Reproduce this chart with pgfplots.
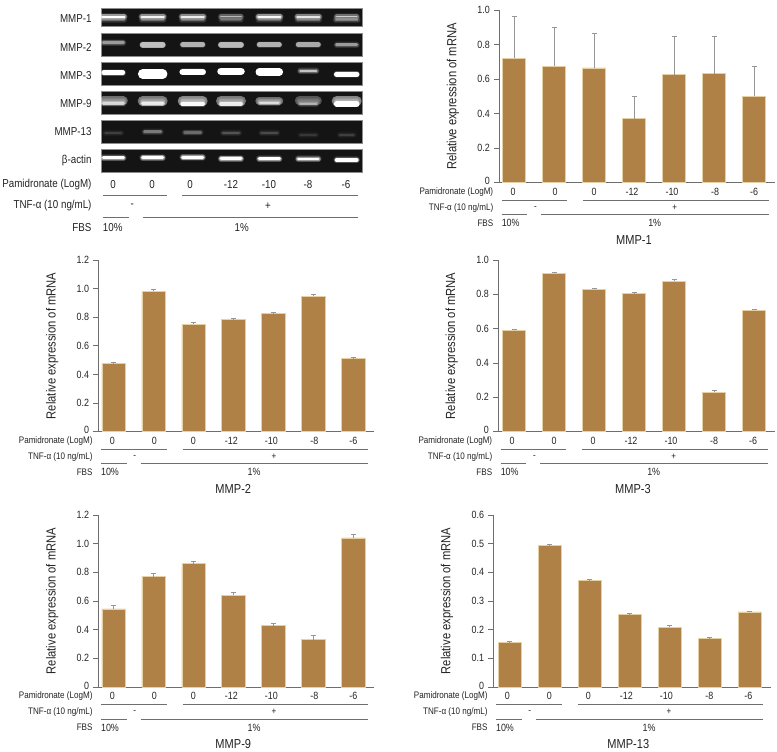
\documentclass[border=0pt]{standalone}
\usepackage{fontspec}
\setmainfont{Liberation Sans}[FakeStretch=0.85]
\usepackage{pgfplots}
\pgfplotsset{compat=1.18}
\definecolor{barfill}{RGB}{175,129,71}
\definecolor{baredge}{RGB}{232,208,165}
\definecolor{txt}{RGB}{35,35,35}
\definecolor{rulec}{RGB}{110,110,110}
\definecolor{errc}{RGB}{150,150,150}

% one gel band: x, y, half width, thickness, brightness
\newcommand\band[5]{%
  \pgfmathsetmacro\ta{#4+3.5}\pgfmathsetmacro\tb{#4+2.2}\pgfmathsetmacro\tc{#4+1}%
  \addplot[draw=white,line cap=round,opacity=0.1*#5/100,line width=\ta pt] coordinates {(#1-#3,#2) (#1+#3,#2)};
  \addplot[draw=white,line cap=round,opacity=0.2*#5/100,line width=\tb pt] coordinates {(#1-#3,#2) (#1+#3,#2)};
  \addplot[draw=white,line cap=round,opacity=0.4*#5/100,line width=\tc pt] coordinates {(#1-#3,#2) (#1+#3,#2)};
  \addplot[draw=white,line cap=round,opacity=#5/100,line width=#4pt] coordinates {(#1-#3,#2) (#1+#3,#2)};
}
\newcommand\lane[2]{\addplot[fill=black!92,draw=black!45,line width=0.6pt] coordinates {(101,#1) (362,#1) (362,#2) (101,#2)} --cycle;}
\newcommand\zero{\raisebox{3pt}{0}}

\pgfplotsset{
  panel/.style={
    scale only axis, anchor=south west,
    axis lines=left, axis line style={-,draw=rulec,line width=0.8pt},
    tick style={draw=rulec,line width=0.7pt}, tick align=outside, major tick length=5pt,
    xtick=\empty, ymin=0, clip=false,
    ybar, bar width=23.4pt, bar shift=0pt,
    yticklabel style={font=\fontsize{10.5}{12}\selectfont,text=txt,inner xsep=2pt,xshift=-2pt},
    every axis y label/.style={at={(axis description cs:-0.167,0.5)},rotate=90,anchor=center,font=\fontsize{13.2}{15}\selectfont,text=txt},
    ylabel={Relative expression of mRNA},
    /pgf/number format/assume math mode=true,
  },
  vals/.style={fill=barfill,draw=baredge,line width=0.7pt,
    error bars/.cd,y dir=plus,y explicit,
    error bar style={draw=errc,line width=0.8pt},
    error mark options={draw=errc,rotate=90,mark size=2.5pt,line width=0.7pt}},
}
% the rows under a chart, from the foot of its y axis
\newcommand\annot[3]{%
  \begin{scope}[shift={(#1,#2)},text=txt,font=\fontsize{9.5}{11}\selectfont]
    \node[anchor=east,inner sep=0pt] at (-5.6,9) {Pamidronate (LogM)};
    \node[anchor=east,inner sep=0pt] at (-5.6,25) {TNF-α (10 ng/mL)};
    \node[anchor=east,inner sep=0pt] at (-5.6,40.6) {FBS};
    \foreach \px/\t in {14/0,56/0,95/0,133/-12,173/-10,216/-8,255/-6} \node[font=\fontsize{10.5}{12}\selectfont] at (\px,9) {\t};
    \draw[rulec,line width=0.6pt] (2.7,17.6)--(68.4,17.6) (84.4,17.6)--(269.7,17.6) (2.7,32)--(28.4,32) (42.4,32)--(269.7,32);
    \node at (36.4,25) {-}; \node at (175.7,25) {+};
    \node[font=\fontsize{10.5}{12}\selectfont] at (11.7,40.6) {10\%};
    \node[font=\fontsize{10.5}{12}\selectfont] at (155.7,40.6) {1\%};
    \node[font=\fontsize{13}{15}\selectfont] at (135,57) {#3};
  \end{scope}}

\begin{document}
\begin{tikzpicture}[x=1pt,y=1pt]
\path (0,0) rectangle (777,751);

% gel panel
\begin{axis}[at={(101pt,579pt)},anchor=south west,scale only axis,width=261pt,height=164pt,
  xmin=101,xmax=362,ymin=8,ymax=172,y dir=reverse,hide axis,clip=false]
\lane{8.5}{26.5}\lane{33}{56}\lane{62}{85}\lane{91}{114}\lane{120}{143}\lane{149}{172}
% MMP-1
\band{113.3}{20}{11}{1.5}{25}\band{152.7}{20}{11}{1.5}{25}\band{192.7}{20}{11}{1.5}{25}\band{231}{20}{10}{1.5}{20}\band{269.3}{20}{11}{1.5}{22}\band{308.3}{20}{11}{1.5}{25}\band{346.7}{20}{11}{1.5}{30}
\band{113.3}{16.7}{11}{2.2}{100}\band{152.7}{16.7}{11}{2.2}{90}\band{192.7}{16.7}{11}{2.2}{85}\band{231}{16.7}{10}{1.6}{55}\band{269.3}{16.7}{11}{2.2}{95}\band{308.3}{16.7}{11}{2.2}{80}\band{346.7}{16.7}{10}{1.6}{65}
% MMP-2
\band{113.3}{42.7}{10}{3}{42}\band{152.7}{44.7}{10}{6}{58}\band{192.7}{44.7}{10}{5}{52}\band{231}{44.7}{10}{6}{55}\band{269.3}{44.7}{10}{5}{52}\band{308.3}{44.7}{10}{5}{48}\band{346.7}{45}{10}{3}{42}
% MMP-3
\band{113.3}{72.7}{9.5}{4.5}{100}\band{152.7}{74}{10}{9.5}{100}\band{192.7}{72}{10}{6.5}{100}\band{231}{71.3}{10}{7.5}{100}\band{269.3}{72}{10}{7.5}{100}\band{308.3}{71}{8}{2}{60}\band{346.7}{74.3}{10}{5.5}{100}
% MMP-9
\band{113.3}{101}{10}{9}{38}\band{152.7}{101}{10}{10}{42}\band{192.7}{101}{10}{10}{48}\band{231}{101}{10}{10}{42}\band{269.3}{101}{10}{8}{35}\band{308.3}{101}{9}{9}{28}\band{346.7}{101}{10}{10}{48}
\band{113.3}{103.5}{10}{2.5}{55}\band{152.7}{103.5}{10}{3.5}{70}\band{192.7}{104}{10}{4.5}{90}\band{231}{104}{10}{3.5}{75}\band{269.3}{103}{9}{2.5}{60}\band{308.3}{104}{8}{2.5}{38}\band{346.7}{104}{10}{5.5}{100}
% MMP-13
\band{113.3}{133}{8}{1.5}{12}\band{152.7}{132}{8}{3}{30}\band{192.7}{132.5}{8}{2.5}{25}\band{231}{133}{8}{2}{18}\band{269.3}{133}{8}{2}{15}\band{308.3}{135}{8}{1.5}{10}\band{346.7}{135}{7}{1.5}{12}
% beta-actin
\band{113.3}{158}{10}{3}{100}\band{152.7}{157.7}{10}{3}{100}\band{192.7}{157.3}{10}{3}{100}\band{231}{158.7}{10}{3}{100}\band{269.3}{159}{10}{3}{100}\band{308.3}{159}{10}{2.5}{100}\band{346.7}{160}{10}{3.5}{100}
\end{axis}

% MMP-1
\begin{axis}[panel,at={(499pt,568.3pt)},width=276pt,height=172.7pt,xmin=-0.375,xmax=6.525,ymax=1,
  ytick={0,0.2,0.4,0.6,0.8,1},yticklabels={\zero,0.2,0.4,0.6,0.8,1.0}]
\addplot[vals] coordinates {(0,0.72) +- (0,0.245) (1,0.675) +- (0,0.225) (2,0.665) +- (0,0.2) (3,0.37) +- (0,0.13) (4,0.625) +- (0,0.225) (5,0.632) +- (0,0.218) (6,0.5) +- (0,0.172)};
\end{axis}
% MMP-2
\begin{axis}[panel,at={(98.3pt,319.3pt)},width=275.7pt,height=171.7pt,xmin=-0.385,xmax=6.516,ymax=1.2,
  ytick={0,0.2,0.4,0.6,0.8,1,1.2},yticklabels={\zero,0.2,0.4,0.6,0.8,1.0,1.2}]
\addplot[vals] coordinates {(0,0.475) +- (0,0.008) (1,0.98) +- (0,0.012) (2,0.752) +- (0,0.013) (3,0.783) +- (0,0.009) (4,0.825) +- (0,0.008) (5,0.948) +- (0,0.012) (6,0.51) +- (0,0.008)};
\end{axis}
% MMP-3
\begin{axis}[panel,at={(498pt,319.3pt)},width=277pt,height=171.7pt,xmin=-0.4,xmax=6.525,ymax=1,
  ytick={0,0.2,0.4,0.6,0.8,1},yticklabels={\zero,0.2,0.4,0.6,0.8,1.0}]
\addplot[vals] coordinates {(0,0.59) +- (0,0.008) (1,0.922) +- (0,0.008) (2,0.83) +- (0,0.006) (3,0.803) +- (0,0.009) (4,0.875) +- (0,0.01) (5,0.23) +- (0,0.008) (6,0.708) +- (0,0.007)};
\end{axis}
% MMP-9
\begin{axis}[panel,at={(98.3pt,64pt)},width=275.7pt,height=172pt,xmin=-0.385,xmax=6.516,ymax=1.2,
  ytick={0,0.2,0.4,0.6,0.8,1,1.2},yticklabels={\zero,0.2,0.4,0.6,0.8,1.0,1.2}]
\addplot[vals] coordinates {(0,0.545) +- (0,0.023) (1,0.77) +- (0,0.02) (2,0.86) +- (0,0.017) (3,0.64) +- (0,0.02) (4,0.428) +- (0,0.017) (5,0.33) +- (0,0.03) (6,1.04) +- (0,0.023)};
\end{axis}
% MMP-13
\begin{axis}[panel,at={(493.3pt,64pt)},width=277.4pt,height=172pt,xmin=-0.41,xmax=6.525,ymax=0.6,
  ytick={0,0.1,0.2,0.3,0.4,0.5,0.6},yticklabels={\zero,0.1,0.2,0.3,0.4,0.5,0.6}]
\addplot[vals] coordinates {(0,0.155) +- (0,0.003) (1,0.495) +- (0,0.002) (2,0.372) +- (0,0.003) (3,0.252) +- (0,0.004) (4,0.208) +- (0,0.006) (5,0.168) +- (0,0.004) (6,0.262) +- (0,0.002)};
\end{axis}

% text and rules, in image pixels from the top left
\begin{scope}[shift={(0,751)},x=1pt,y=-1pt]
\annot{499}{182.7}{MMP-1}
\annot{98.3}{431.7}{MMP-2}
\annot{498}{431.7}{MMP-3}
\annot{98.3}{687}{MMP-9}
\annot{493.3}{687}{MMP-13}
\begin{scope}[text=txt,font=\fontsize{11.5}{13}\selectfont]
  \foreach \py/\t in {19/MMP-1,47/MMP-2,75.3/MMP-3,103.7/MMP-9,132/MMP-13,160.7/β-actin}
    \node[anchor=east,inner sep=0pt] at (91.7,\py) {\t};
  \node[anchor=east,inner sep=0pt] at (91.7,184.3) {Pamidronate (LogM)};
  \node[anchor=east,inner sep=0pt] at (91.7,206) {TNF-α (10 ng/mL)};
  \node[anchor=east,inner sep=0pt] at (91.7,227.7) {FBS};
  \foreach \px/\t in {113/0,152/0,190/0,231/-12,269/-10,308/-8,346/-6} \node at (\px,184.3) {\t};
  \draw[rulec,line width=0.6pt] (103,195.3)--(167,195.3) (182,195.3)--(358,195.3) (103,217)--(129,217) (143,217)--(358,217);
  \node at (132.3,206) {-}; \node at (268,206) {+};
  \node at (112.7,227.7) {10\%};
  \node at (241.7,227.7) {1\%};
\end{scope}
\end{scope}
\end{tikzpicture}
\end{document}
